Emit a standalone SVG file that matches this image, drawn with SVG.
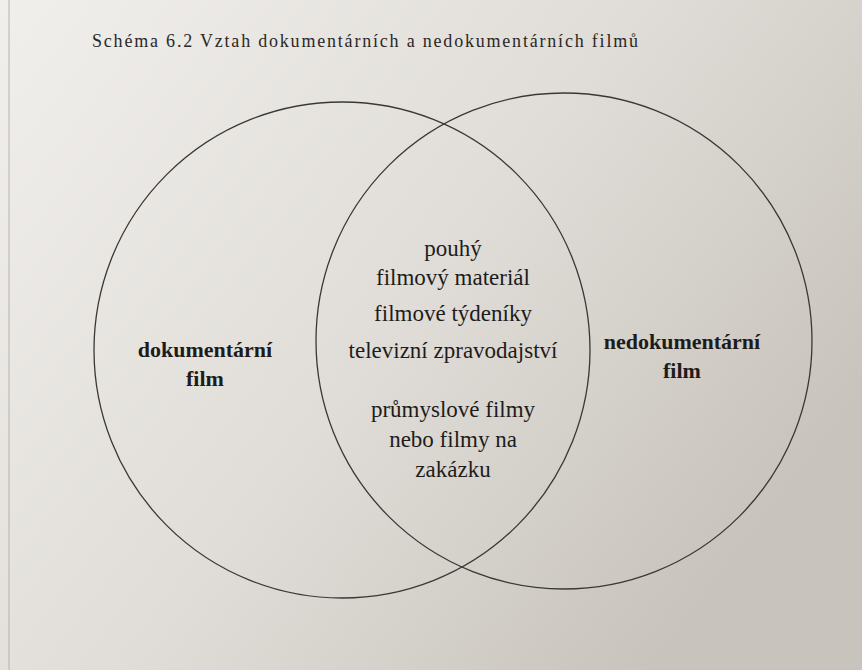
<svg xmlns="http://www.w3.org/2000/svg" width="862" height="670" viewBox="0 0 862 670">
<defs>
<linearGradient id="bg" x1="0" y1="0" x2="1" y2="0.6">
<stop offset="0" stop-color="#f1efec"/>
<stop offset="0.55" stop-color="#e0ddd8"/>
<stop offset="1" stop-color="#c8c3bc"/>
</linearGradient>
</defs>
<style>
.c{fill:none;stroke:#3a3836;stroke-width:1.3}
.t{font-family:"Liberation Serif","DejaVu Serif",serif;fill:#1e1c1a;text-anchor:middle;font-size:23px}
.b{font-weight:bold;font-size:22px}
.title{font-family:"Liberation Serif","DejaVu Serif",serif;fill:#2a2826;font-size:18px}
</style>
<rect width="862" height="670" fill="url(#bg)"/>
<line x1="9" y1="0" x2="9" y2="670" stroke="#b5ada2" stroke-width="1.5" opacity="0.6"/>
<text class="title" x="92" y="47" textLength="546" lengthAdjust="spacing">Schéma 6.2 Vztah dokumentárních a nedokumentárních filmů</text>
<g id="connectors"></g>
<g id="dokumentarni">
<circle class="c" cx="342" cy="350" r="248"/>
<text class="t b" x="205" y="357">dokumentární</text>
<text class="t b" x="205" y="386">film</text>
</g>
<g id="nedokumentarni">
<circle class="c" cx="564" cy="341" r="248"/>
<text class="t b" x="682" y="349">nedokumentární</text>
<text class="t b" x="682" y="378">film</text>
</g>
<g id="prunik">
<text class="t" x="453" y="256">pouhý</text>
<text class="t" x="453" y="285">filmový materiál</text>
<text class="t" x="453" y="321">filmové týdeníky</text>
<text class="t" x="453" y="358">televizní zpravodajství</text>
<text class="t" x="453" y="417">průmyslové filmy</text>
<text class="t" x="453" y="447">nebo filmy na</text>
<text class="t" x="453" y="477">zakázku</text>
</g>
</svg>
